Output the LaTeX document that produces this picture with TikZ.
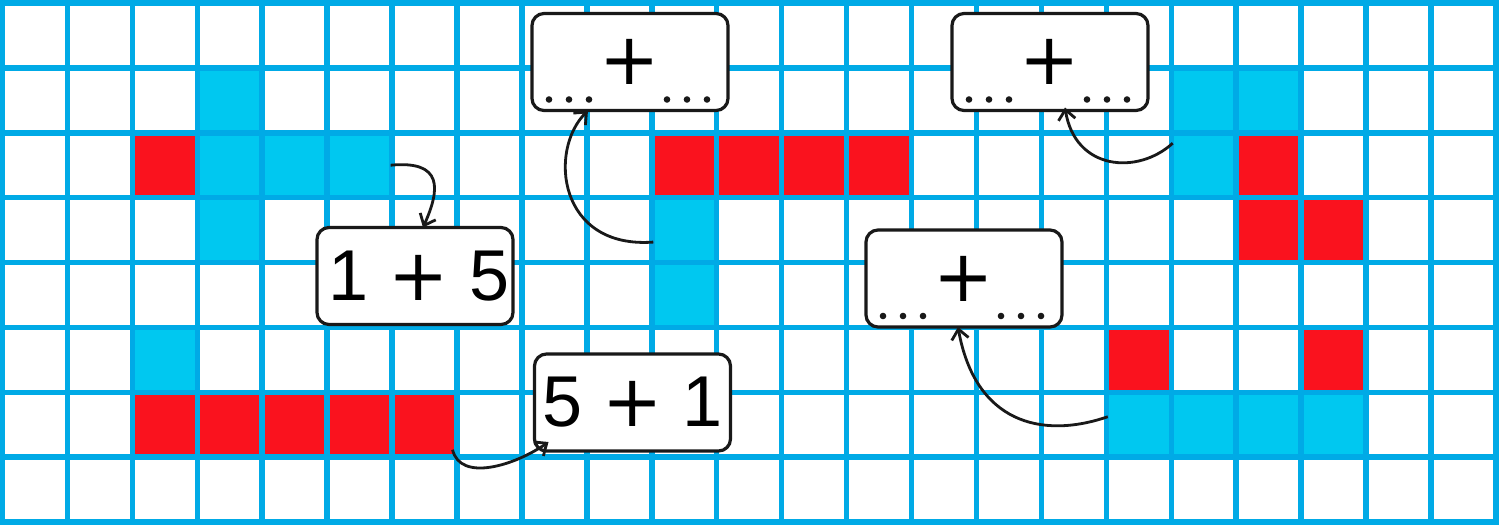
\documentclass[tikz,border=0pt]{standalone}
\usepackage{fontspec}
\setmainfont{Liberation Sans}
\newfontfamily\plusf{DejaVu Sans}
\usetikzlibrary{arrows.meta}
\definecolor{gridblue}{RGB}{0,170,230}
\definecolor{cellblue}{RGB}{0,200,240}
\definecolor{cellred}{RGB}{250,18,30}
\newcommand\cellat[4]{\node[#1] (#2) at ({2.5+64.93*(#4+0.5)},{3+64.88*(#3+0.5)}) {};}
\tikzset{
  cellbox/.style={rectangle,minimum size=62pt,inner sep=0pt,outer sep=0pt,draw=none},
  redcell/.style={cellbox,fill=cellred},
  bluecell/.style={cellbox,fill=cellblue},
  gridline/.style={draw=gridblue,line width=5.5pt,line cap=rect},
  sumbox/.style={draw=black!90,fill=white,line width=3.2pt,rounded corners=12pt,
    minimum width=196pt,minimum height=97pt,inner sep=0pt,outer sep=0pt,
    font=\fontsize{72}{80}\selectfont},
  arr/.style={draw=black!90,line width=2.8pt,-{Straight Barb[length=10pt,width=17pt]}},
  dotmark/.style={fill=black!90}
}
\begin{document}
\begin{tikzpicture}[x=1pt,y=-1pt]
\useasboundingbox (0,0) rectangle (1499,525);
\fill[white] (0,0) rectangle (1499,525);
% red cells
\foreach \r/\c in {2/2,6/2,6/3,6/4,6/5,6/6,2/10,2/11,2/12,2/13,2/19,3/19,3/20,5/17,5/20}
  {\cellat{redcell}{r-\r-\c}{\r}{\c}}
% blue cells
\foreach \r/\c in {1/3,2/3,2/4,2/5,3/3,5/2,3/10,4/10,1/18,1/19,2/18,6/17,6/18,6/19,6/20}
  {\cellat{bluecell}{b-\r-\c}{\r}{\c}}
% grid
\foreach \i in {0,...,23} \draw[gridline] ({2.5+64.93*\i},3) -- ({2.5+64.93*\i},522);
\foreach \j in {0,...,8} \draw[gridline] (2.5,{3+64.88*\j}) -- (1496,{3+64.88*\j});
% boxes
\node[sumbox] (box1) at (415,276) {\hspace{8pt}1 {\plusf +} 5};
\node[sumbox] (box2) at (632.5,402.5) {5 {\plusf +} 1};
\node[sumbox] (box3) at (630,62) {{\plusf +}};
\node[sumbox] (box4) at (1050,62) {{\plusf +}};
\node[sumbox] (box5) at (964,278.5) {{\plusf +}};
\foreach \b in {box3,box4,box5} {
  \foreach \dx in {17,37,57} \fill[dotmark] ([shift={(\dx pt,11pt)}]\b.south west) circle (3.3pt);
  \foreach \dx in {21,41,61} \fill[dotmark] ([shift={(-\dx pt,11pt)}]\b.south east) circle (3.3pt);
}
% arrows
\draw[arr] (b-2-5.east) .. controls +(53,-5) and +(17,-38) .. ([xshift=8pt]box1.north);
\draw[arr] ([shift={(-3pt,6pt)}]r-6-6.south east) .. controls +(8,33) and +(-33,23) .. ([shift={(14pt,9pt)}]box2.south west);
\draw[arr] ([yshift=-12pt]b-3-10.west) .. controls +(-95,7) and +(-40,40) .. ([xshift=-42pt]box3.south);
\draw[arr] ([yshift=22pt]b-2-18.west) .. controls +(-35,32) and +(10,63) .. ([shift={(15pt,3pt)}]box4.south);
\draw[arr] ([yshift=8pt]b-6-17.west) .. controls +(-67,23) and +(17,95) .. ([xshift=-6pt]box5.south);
\end{tikzpicture}
\end{document}
